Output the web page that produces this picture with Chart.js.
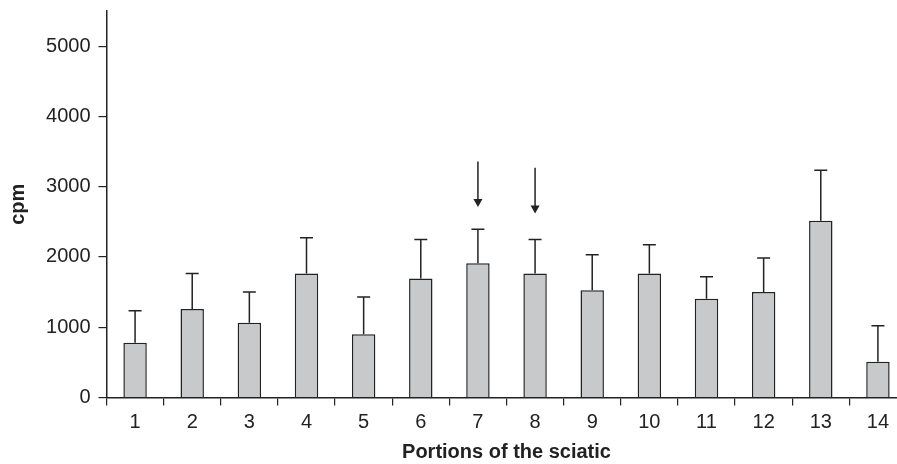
<!DOCTYPE html>
<html>
<head>
<meta charset="utf-8">
<script src="https://cdn.jsdelivr.net/npm/chart.js@4/dist/chart.umd.min.js"></script>
<style>
    html, body { margin: 0; padding: 0; background: #fff; overflow: hidden; }
    #wrap { width: 910px; height: 464px; }
</style>
</head>
<body>
<div id="wrap"><canvas id="chart"></canvas></div>
<script>
// Данные
const portions = ['1', '2', '3', '4', '5', '6', '7', '8', '9', '10', '11', '12', '13', '14'];
const cpmMean = [780, 1260, 1065, 1765, 900, 1695, 1910, 1765, 1525, 1765, 1405, 1500, 2515, 510];
const cpmSd = [455, 505, 435, 510, 530, 555, 485, 485, 505, 410, 315, 485, 720, 510];
const yTicks = [0, 1000, 2000, 3000, 4000, 5000];

// Стрелки над порциями 7 и 8
const arrowPortions = ['7', '8'];
const arrowFrom = [3360, 3270];
const arrowTo = [2710, 2620];

const ink = '#222';
const font = 'Liberation Sans, Arial, sans-serif';

// Планки погрешностей (только вверх)
const errorBars = {
    id: 'errorBars',
    afterDatasetsDraw(chart) {
        const ctx = chart.ctx;
        const x = chart.scales.x, y = chart.scales.y;
        ctx.save();
        ctx.strokeStyle = ink;
        ctx.lineWidth = 1.5;
        cpmMean.forEach((v, i) => {
            const px = x.getPixelForValue(i);
            const y0 = y.getPixelForValue(v);
            const y1 = y.getPixelForValue(v + cpmSd[i]);
            ctx.beginPath();
            ctx.moveTo(px, y0);
            ctx.lineTo(px, y1);
            ctx.moveTo(px - 6.5, y1);
            ctx.lineTo(px + 6.5, y1);
            ctx.stroke();
        });
        ctx.restore();
    }
};

// Стрелки
const arrows = {
    id: 'arrows',
    afterDatasetsDraw(chart) {
        const ctx = chart.ctx;
        const x = chart.scales.x, y = chart.scales.y;
        ctx.save();
        ctx.strokeStyle = ink;
        ctx.fillStyle = ink;
        ctx.lineWidth = 1.5;
        arrowPortions.forEach((p, i) => {
            const px = x.getPixelForValue(portions.indexOf(p));
            const top = y.getPixelForValue(arrowFrom[i]);
            const tip = y.getPixelForValue(arrowTo[i]);
            ctx.beginPath();
            ctx.moveTo(px, top);
            ctx.lineTo(px, tip - 6);
            ctx.stroke();
            ctx.beginPath();
            ctx.moveTo(px - 4.5, tip - 8);
            ctx.lineTo(px + 4.5, tip - 8);
            ctx.lineTo(px, tip);
            ctx.closePath();
            ctx.fill();
        });
        ctx.restore();
    }
};

const ctx = document.getElementById('chart').getContext('2d');
new Chart(ctx, {
    type: 'bar',
    data: {
        labels: portions,
        datasets: [{
            data: cpmMean,
            backgroundColor: '#c8c9cb',
            borderColor: ink,
            borderWidth: 1.5,
            barPercentage: 0.41,
            categoryPercentage: 1
        }]
    },
    options: {
        responsive: true,
        maintainAspectRatio: false,
        animation: false,
        layout: { padding: { top: 11, right: 3.5, left: 0, bottom: 0 } },
        plugins: {
            legend: { display: false },
            tooltip: { enabled: false }
        },
        scales: {
            x: {
                offset: true,
                grid: {
                    offset: true,
                    drawOnChartArea: false,
                    drawTicks: true,
                    tickLength: 8,
                    color: ink,
                    lineWidth: 1.2
                },
                border: { color: ink, width: 1.5 },
                ticks: {
                    color: ink,
                    padding: 5,
                    font: { family: font, size: 20 }
                },
                title: {
                    display: true,
                    text: 'Portions of the sciatic',
                    color: ink,
                    padding: 0,
                    font: { family: font, size: 20, weight: 'bold' }
                },
                afterFit(scale) { scale.height = 66.5; }
            },
            y: {
                min: 0,
                max: 5500,
                ticks: {
                    autoSkip: false,
                    color: ink,
                    padding: 8,
                    font: { family: font, size: 20 },
                    callback: v => String(v)
                },
                afterBuildTicks(scale) {
                    scale.ticks = yTicks.map(v => ({ value: v }));
                },
                grid: {
                    drawOnChartArea: false,
                    drawTicks: true,
                    tickLength: 8,
                    color: ink,
                    lineWidth: 1.2
                },
                border: { color: ink, width: 1.5 },
                title: {
                    display: true,
                    text: 'cpm',
                    color: ink,
                    padding: { top: 6, bottom: 0 },
                    font: { family: font, size: 20, weight: 'bold' }
                },
                afterFit(scale) {
                    scale.width = 106.5;
                    scale.paddingTop = 0;
                }
            }
        }
    },
    plugins: [errorBars, arrows]
});
</script>
</body>
</html>
